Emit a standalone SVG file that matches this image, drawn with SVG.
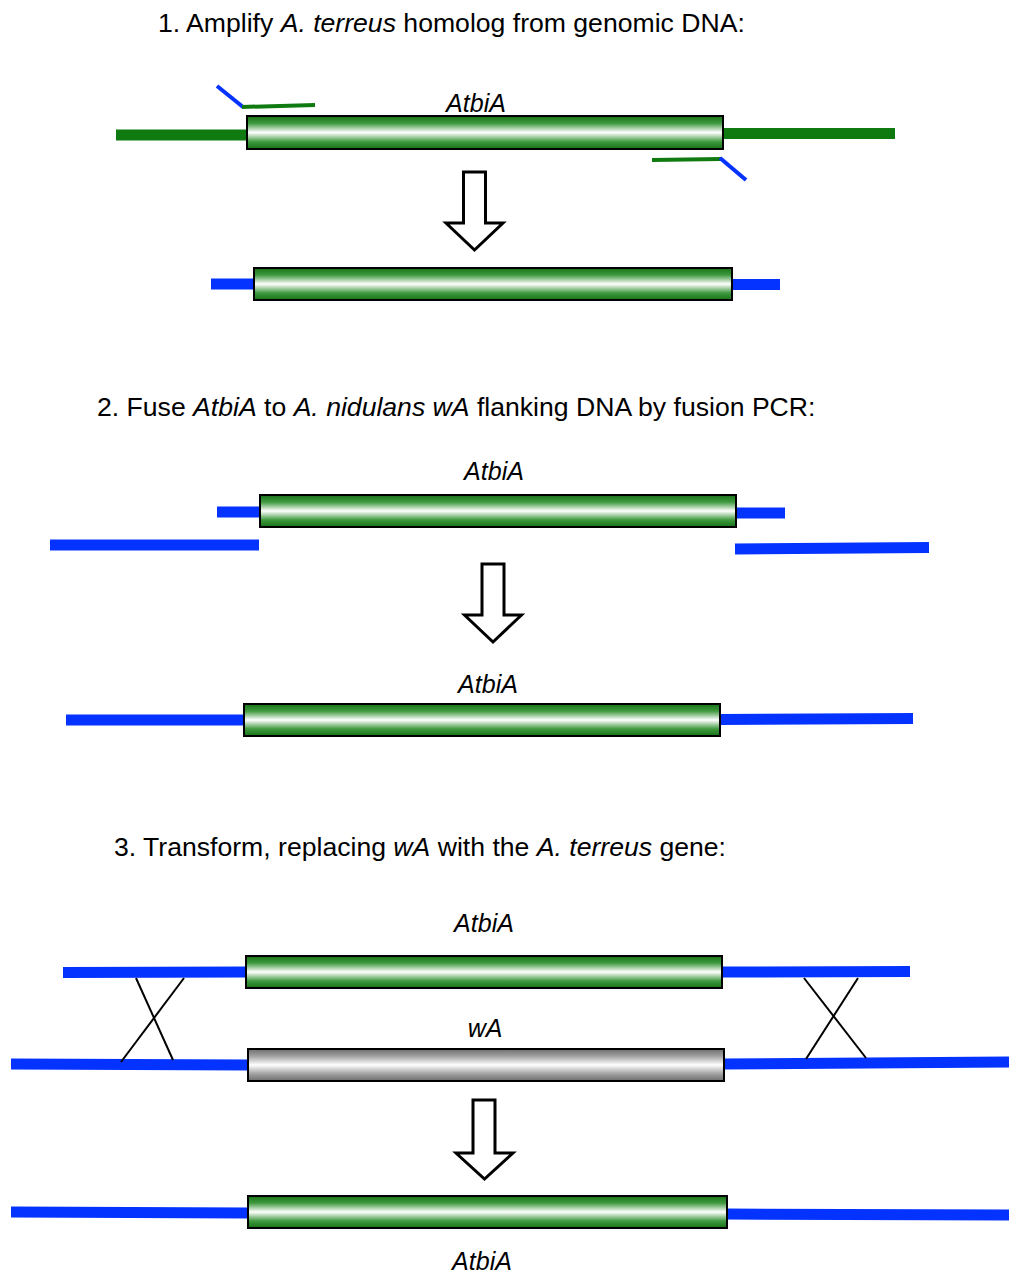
<svg xmlns="http://www.w3.org/2000/svg" width="1009" height="1275" viewBox="0 0 1009 1275">
<defs>
<linearGradient id="gGreen" x1="0" y1="0" x2="0" y2="1">
<stop offset="0" stop-color="#177217"/>
<stop offset="0.22" stop-color="#3f993f"/>
<stop offset="0.5" stop-color="#ffffff"/>
<stop offset="0.78" stop-color="#3f993f"/>
<stop offset="1" stop-color="#177217"/>
</linearGradient>
<linearGradient id="gGray" x1="0" y1="0" x2="0" y2="1">
<stop offset="0" stop-color="#6e6e6e"/>
<stop offset="0.22" stop-color="#a0a0a0"/>
<stop offset="0.5" stop-color="#ffffff"/>
<stop offset="0.78" stop-color="#a0a0a0"/>
<stop offset="1" stop-color="#6e6e6e"/>
</linearGradient>
</defs>
<style>
.title{font-family:"Liberation Sans",Arial,sans-serif;font-size:26.6px;fill:#000}
.lbl{font-family:"Liberation Sans",Arial,sans-serif;font-size:25px;font-style:italic;fill:#000;text-anchor:middle}
.gbar{fill:url(#gGreen);stroke:#000;stroke-width:2}
.ybar{fill:url(#gGray);stroke:#000;stroke-width:2}
.dnaG{stroke:#0f7a0f;stroke-width:11;fill:none}
.dnaB{stroke:#0433ff;stroke-width:11;fill:none}
.primG{stroke:#0f7a0f;stroke-width:4;fill:none}
.primB{stroke:#0433ff;stroke-width:4;fill:none}
.arrow{fill:#fff;stroke:#000;stroke-width:3;stroke-linejoin:miter}
.cross{stroke:#000;stroke-width:2;fill:none}
</style>

<g id="titles">
<text class="title" x="158" y="32">1. Amplify <tspan font-style="italic">A. terreus</tspan> homolog from genomic DNA:</text>
<text class="title" x="97" y="416">2. Fuse <tspan font-style="italic">AtbiA</tspan> to <tspan font-style="italic">A. nidulans wA</tspan> flanking DNA by fusion PCR:</text>
<text class="title" x="114" y="856">3. Transform, replacing <tspan font-style="italic">wA</tspan> with the <tspan font-style="italic">A. terreus</tspan> gene:</text>
</g>

<g id="connectors">
<!-- section 1 -->
<line class="dnaG" x1="116" y1="135" x2="248" y2="135"/>
<line class="dnaG" x1="722" y1="133.5" x2="895" y2="133.5"/>
<line class="primB" x1="217" y1="86" x2="243" y2="107"/>
<line class="primG" x1="242" y1="107" x2="315" y2="105"/>
<line class="primG" x1="652" y1="160" x2="721" y2="159"/>
<line class="primB" x1="720" y1="158" x2="746" y2="180"/>
<line class="dnaB" x1="211" y1="284" x2="255" y2="284"/>
<line class="dnaB" x1="731" y1="284.5" x2="780" y2="284.5"/>
<!-- section 2 -->
<line class="dnaB" x1="217" y1="512" x2="261" y2="512"/>
<line class="dnaB" x1="735" y1="513" x2="785" y2="513"/>
<line class="dnaB" x1="50" y1="545" x2="259" y2="545"/>
<line class="dnaB" x1="735" y1="549" x2="929" y2="547.5"/>
<line class="dnaB" x1="66" y1="720" x2="245" y2="720"/>
<line class="dnaB" x1="719" y1="719.5" x2="913" y2="718.5"/>
<!-- section 3 -->
<line class="dnaB" x1="63" y1="972.5" x2="247" y2="972"/>
<line class="dnaB" x1="721" y1="972" x2="910" y2="971.5"/>
<line class="dnaB" x1="11" y1="1064" x2="249" y2="1065"/>
<line class="dnaB" x1="723" y1="1064" x2="1009" y2="1062"/>
<line class="dnaB" x1="11" y1="1212" x2="249" y2="1213"/>
<line class="dnaB" x1="726" y1="1214" x2="1009" y2="1215"/>
<line class="cross" x1="136" y1="978" x2="173" y2="1060"/>
<line class="cross" x1="184" y1="978" x2="121" y2="1062"/>
<line class="cross" x1="804" y1="978" x2="866" y2="1058"/>
<line class="cross" x1="858" y1="978" x2="806" y2="1059"/>
</g>

<g id="arrow1"><path class="arrow" d="M463.5,172 H485.5 V223 H503 L474.5,250 L446,223 H463.5 Z"/></g>
<g id="arrow2"><path class="arrow" d="M482,564 H504 V615 H521.5 L493,642 L464.5,615 H482 Z"/></g>
<g id="arrow3"><path class="arrow" d="M473,1100 H495 V1153 H513 L484.5,1179 L456,1153 H473 Z"/></g>

<g id="gene1"><rect class="gbar" x="247" y="116" width="476" height="33"/><text class="lbl" x="476" y="112">AtbiA</text></g>
<g id="gene1b"><rect class="gbar" x="254" y="268" width="478" height="32"/></g>
<g id="gene2"><rect class="gbar" x="260" y="495" width="476" height="32"/><text class="lbl" x="494" y="480">AtbiA</text></g>
<g id="gene2b"><rect class="gbar" x="244" y="704" width="476" height="32"/><text class="lbl" x="488" y="693">AtbiA</text></g>
<g id="gene3"><rect class="gbar" x="246" y="956" width="476" height="32"/><text class="lbl" x="484" y="932">AtbiA</text></g>
<g id="wA"><rect class="ybar" x="248" y="1049" width="476" height="32"/><text class="lbl" x="485" y="1037">wA</text></g>
<g id="gene3b"><rect class="gbar" x="248" y="1196" width="479" height="32"/><text class="lbl" x="482" y="1270">AtbiA</text></g>
</svg>
